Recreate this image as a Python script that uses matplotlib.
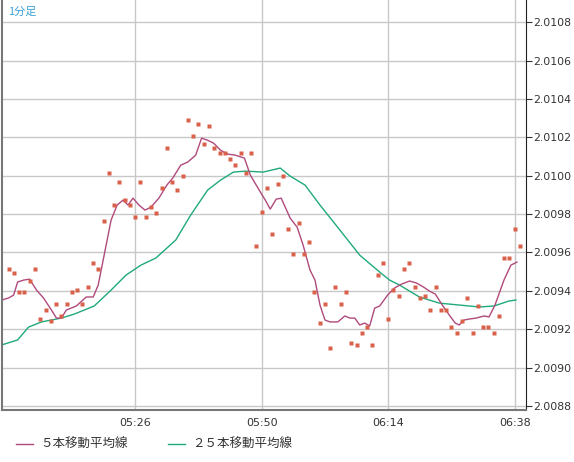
import matplotlib.pyplot as plt
from matplotlib.lines import Line2D
import numpy as np

plt.rcParams['font.family'] = ['DejaVu Sans', 'Noto Sans CJK JP']

# price offsets in units of 0.0001 above 2.0000, one per minute from 05:02
close_vals = [
    95.14, 94.93, 93.94, 93.94, 94.51, 95.14, 92.53, 93.00, 92.43, 93.31,
    92.69, 93.31, 93.94, 94.04, 93.31, 94.20, 95.45, 95.14, 97.64, 100.14,
    98.47, 99.67, 98.73, 98.47, 97.84, 99.67, 97.84, 98.36, 98.05, 99.35,
    101.43, 99.67, 99.25, 99.98, 102.90, 102.06, 102.69, 101.65, 102.58, 101.43,
    101.18, 101.18, 100.86, 100.55, 101.18, 100.14, 101.18, 96.33, 98.10, 99.35,
    96.96, 99.56, 99.98, 97.22, 95.92, 97.53, 95.92, 96.54, 93.94, 92.32,
    93.31, 91.02, 94.20, 93.31, 93.94, 91.28, 91.18, 91.80, 92.11, 91.18,
    94.82, 95.45, 92.53, 94.04, 93.73, 95.14, 95.45, 94.20, 93.63, 93.73,
    93.00, 94.20, 93.00, 93.00, 92.11, 91.80, 92.43, 93.63, 91.80, 93.21,
    92.11, 92.11, 91.80, 92.69, 95.71, 95.71, 97.22, 96.33,
]
close = 2.0 + np.array(close_vals) / 10000

ma5_idx = [-1.32, 0, 0.94, 1.7, 2.83, 3.96, 5.28, 6.6, 8.11, 9.06, 10.0, 10.94, 12.83,
           14.72, 16.04, 16.98, 18.11, 19.43, 20.57, 21.7, 22.64, 23.58, 24.72, 25.85,
           26.98, 28.49, 30.0, 31.13, 32.64, 33.96, 35.47, 36.6, 37.74, 38.87, 40.19,
           41.51, 43.02, 44.72, 45.85, 47.74, 48.68, 49.62, 50.75, 51.7, 53.4, 54.72,
           55.85, 57.17, 58.11, 59.06, 60.0, 60.94, 62.45, 63.77, 64.72, 65.66, 66.6,
           67.55, 68.49, 69.43, 70.38, 71.89, 73.21, 74.53, 76.04, 77.36, 78.68, 79.81,
           80.94, 82.26, 83.58, 84.72, 85.47, 86.42, 87.36, 88.68, 90.19, 91.13, 92.26,
           93.96, 95.28, 96.42]
ma5_vals = [93.52, 93.63, 93.78, 94.46, 94.56, 94.61, 94.04, 93.63, 93.0, 92.58, 92.58,
            93.0, 93.21, 93.68, 93.68, 94.3, 95.86, 97.69, 98.47, 98.73, 98.47, 98.83,
            98.47, 98.21, 98.36, 98.83, 99.51, 99.88, 100.55, 100.71, 101.07, 101.96,
            101.85, 101.7, 101.33, 101.13, 101.07, 100.92, 100.03, 99.15, 98.73, 98.26,
            98.78, 98.83, 97.79, 97.32, 96.39, 95.08, 94.56, 93.26, 92.48, 92.38, 92.38,
            92.69, 92.58, 92.58, 92.22, 92.32, 92.17, 93.1, 93.21, 93.78, 94.15, 94.35,
            94.51, 94.41, 94.2, 93.99, 93.83, 93.26, 92.74, 92.32, 92.22, 92.48, 92.53,
            92.58, 92.69, 92.64, 93.26, 94.56, 95.34, 95.5]

ma25_idx = [-1.32, 1.7, 3.77, 6.23, 10.0, 12.45, 16.23, 19.43, 22.26, 25.09, 27.92,
            31.7, 34.53, 37.74, 40.19, 42.64, 44.91, 48.3, 51.51, 53.4, 56.23, 59.06,
            62.83, 66.6, 70.38, 72.26, 74.15, 77.92, 81.7, 85.47, 89.25, 92.08, 94.91, 96.23]
ma25_vals = [91.18, 91.44, 92.11, 92.38, 92.58, 92.79, 93.21, 94.04, 94.82, 95.34, 95.71,
             96.65, 97.95, 99.25, 99.77, 100.19, 100.24, 100.19, 100.4, 99.98, 99.51,
             98.47, 97.17, 95.86, 94.98, 94.56, 94.3, 93.68, 93.36, 93.26, 93.16, 93.21,
             93.47, 93.52]

tick_idx = [24, 48, 72, 96]
tick_labels = ["05:26", "05:50", "06:14", "06:38"]
y_ticks = [2.0088, 2.0090, 2.0092, 2.0094, 2.0096, 2.0098, 2.0100, 2.0102, 2.0104, 2.0106, 2.0108]

c_pts = "#d9604a"
c_ma5 = "#b04a7c"
c_ma25 = "#1faa7a"

fig = plt.figure(figsize=(5.74, 4.62), dpi=100)
ax = fig.add_axes([0.003, 0.1126, 0.913, 0.887])
ax.set_xlim(-1.32, 98.1)
ax.set_ylim(2.008779, 2.010915)

ax.set_xticks(tick_idx)
ax.set_xticklabels(tick_labels, fontsize=8, color="#333333")
ax.set_yticks(y_ticks)
ax.set_yticklabels([f"{v:.4f}" for v in y_ticks], fontsize=7.8, color="#333333")
ax.yaxis.tick_right()
ax.tick_params(axis="x", length=0, pad=6)
ax.tick_params(axis="y", length=4, color="#333333", pad=1)
ax.grid(True, color="#c8c8c8", linewidth=1)
ax.set_axisbelow(True)
for side in ["left", "bottom"]:
    ax.spines[side].set_color("#777777")
    ax.spines[side].set_linewidth(1.5)
ax.spines["right"].set_color("#222222")
ax.spines["top"].set_visible(False)

ax.plot(ma25_idx, 2.0 + np.array(ma25_vals) / 10000, color=c_ma25, lw=1)
ax.plot(ma5_idx, 2.0 + np.array(ma5_vals) / 10000, color=c_ma5, lw=1)
ax.plot(np.arange(len(close)), close, ls="none", marker="s", ms=3, color=c_pts, mec="none")

cjk = ['Noto Sans CJK JP', 'DejaVu Sans']
ax.text(0.012, 0.985, "1分足", transform=ax.transAxes, fontsize=8, color="#3aa0d8",
        va="top", ha="left", family=cjk)

fig.add_artist(Line2D([0.028, 0.058], [0.039, 0.039], color=c_ma5, lw=1))
fig.text(0.07, 0.039, "５本移動平均線", fontsize=9, color="#333333", va="center", family=cjk)
fig.add_artist(Line2D([0.293, 0.323], [0.039, 0.039], color=c_ma25, lw=1))
fig.text(0.335, 0.039, "２５本移動平均線", fontsize=9, color="#333333", va="center", family=cjk)

fig.savefig("out.png", dpi=100)
